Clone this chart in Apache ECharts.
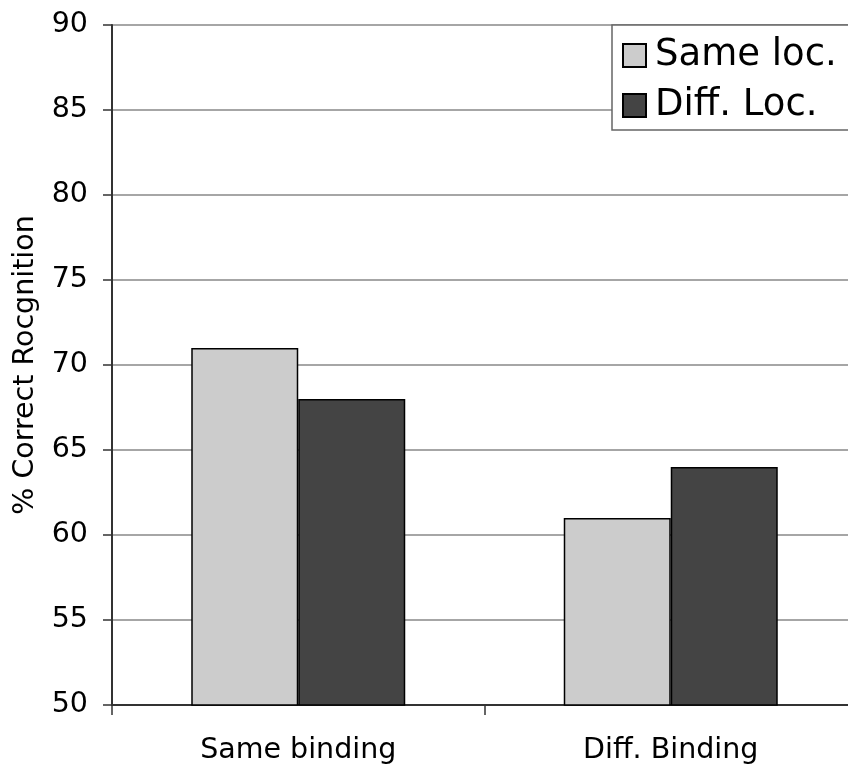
<!DOCTYPE html>
<html>
<head>
<meta charset="utf-8">
<script src="https://cdn.jsdelivr.net/npm/echarts@6/dist/echarts.min.js"></script>
<style>
html,body{margin:0;padding:0;background:#fff;}
#chart{width:848px;height:766px;}
</style>
</head>
<body>
<div id="chart"></div>
<script>
const categories = ['Same binding', 'Diff. Binding'];
const sameLoc = [71, 61];
const diffLoc = [68, 64];
const seriesNames = ['Same loc.', 'Diff. Loc.'];
const yName = '% Correct Rocgnition';

const font = 'DejaVu Sans';
const chart = echarts.init(document.getElementById('chart'), null, {renderer: 'canvas'});
chart.setOption({
  animation: false,
  backgroundColor: '#ffffff',
  grid: {left: 112, width: 745, top: 25, height: 680, containLabel: false, outerBoundsMode: 'none'},
  legend: {
    orient: 'vertical',
    left: 612,
    top: 25,
    padding: [12, 30, 6, 10],
    itemWidth: 23,
    itemHeight: 23,
    itemGap: 13,
    icon: 'rect',
    backgroundColor: '#ffffff',
    borderColor: '#666666',
    borderWidth: 1.5,
    borderRadius: 0,
    textStyle: {fontFamily: font, fontSize: 37, color: '#000', padding: [0, 0, 0, 4]},
    data: seriesNames
  },
  xAxis: {
    type: 'category',
    data: categories,
    boundaryGap: true,
    axisLine: {show: true, lineStyle: {color: '#333', width: 2}},
    axisTick: {show: true, length: 10, alignWithLabel: false, lineStyle: {color: '#333', width: 1.5}},
    axisLabel: {fontFamily: font, fontSize: 28.5, color: '#000', margin: 31},
    splitLine: {show: false}
  },
  yAxis: {
    type: 'value',
    min: 50,
    max: 90,
    interval: 5,
    name: yName,
    nameLocation: 'middle',
    nameGap: 72,
    nameTextStyle: {fontFamily: font, fontSize: 28.5, color: '#000'},
    axisLine: {show: true, lineStyle: {color: '#333', width: 2}},
    axisTick: {show: true, length: 9, lineStyle: {color: '#333', width: 1.5}},
    axisLabel: {fontFamily: font, fontSize: 28.5, color: '#000', margin: 24},
    splitLine: {show: true, lineStyle: {color: '#888', width: 1.5}}
  },
  series: [
    {
      name: seriesNames[0],
      type: 'bar',
      data: sameLoc,
      barWidth: 107,
      barGap: '0%',
      itemStyle: {color: '#cccccc', borderColor: '#000', borderWidth: 1.5}
    },
    {
      name: seriesNames[1],
      type: 'bar',
      data: diffLoc,
      barWidth: 107,
      barGap: '0%',
      itemStyle: {color: '#444444', borderColor: '#000', borderWidth: 1.5}
    }
  ]
});
</script>
</body>
</html>
